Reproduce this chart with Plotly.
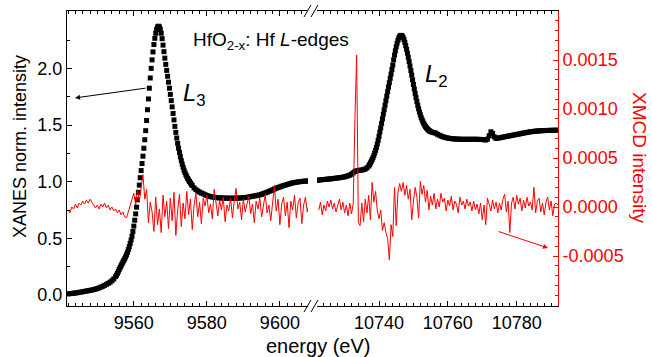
import numpy as np
import plotly.graph_objects as go

# ---------------- data ----------------
# XANES, Hf L3 edge (left break segment). Piecewise-uniform energy grids: (start eV, step eV)
l3_grid_a = (9542.0, 0.5)
l3_xanes_a = [0.010, 0.012, 0.014, 0.016, 0.018, 0.020, 0.023, 0.026, 0.029, 0.032,
              0.035, 0.038, 0.041, 0.044, 0.048, 0.052, 0.057, 0.063, 0.070, 0.077,
              0.085, 0.094, 0.103, 0.113, 0.126, 0.142, 0.162]
l3_grid_b = (9555.25, 0.25)
l3_xanes_b = [0.175, 0.190, 0.207, 0.225, 0.242, 0.258, 0.274, 0.290, 0.305, 0.320,
              0.337, 0.355, 0.376, 0.400, 0.426, 0.455, 0.485, 0.518, 0.560, 0.608,
              0.660, 0.716, 0.775, 0.840, 0.905, 0.970, 1.035, 1.098, 1.160, 1.225,
              1.295, 1.370, 1.450, 1.540, 1.635, 1.730, 1.825, 1.915, 2.000, 2.075,
              2.145, 2.210, 2.265, 2.310, 2.345, 2.365, 2.372, 2.365, 2.345, 2.310,
              2.262, 2.205, 2.147, 2.090, 2.035, 1.982, 1.930, 1.878, 1.825, 1.770,
              1.715, 1.660, 1.602, 1.545, 1.488, 1.435, 1.385, 1.338, 1.296, 1.258,
              1.220, 1.186, 1.155, 1.127, 1.102, 1.080, 1.061, 1.044, 1.028, 1.014,
              1.001, 0.989, 0.977, 0.966]
l3_grid_c = (9576.5, 0.5)
l3_xanes_c = [0.945, 0.930, 0.918, 0.908, 0.900, 0.893, 0.885, 0.878, 0.872, 0.868,
              0.865, 0.862, 0.860, 0.858, 0.857, 0.856, 0.855, 0.855, 0.854, 0.854,
              0.854, 0.854, 0.854, 0.855, 0.855, 0.856, 0.857, 0.858, 0.860, 0.862,
              0.865, 0.868, 0.871, 0.874, 0.877, 0.880, 0.884, 0.889, 0.895, 0.901,
              0.907, 0.914, 0.921, 0.928, 0.935, 0.942, 0.948, 0.954, 0.960, 0.965,
              0.970, 0.975, 0.980, 0.985, 0.989, 0.992, 0.995, 0.998, 1.000, 1.002,
              1.004, 1.005, 1.006, 1.007]

# XANES, Hf L2 edge (right break segment)
l2_grid_a = (10722.0, 0.5)
l2_xanes_a = [1.012, 1.014, 1.016, 1.018, 1.019, 1.021, 1.022, 1.024, 1.025, 1.027,
              1.029, 1.031, 1.033, 1.035, 1.037, 1.040, 1.043, 1.047, 1.052, 1.058,
              1.066, 1.078, 1.090, 1.096, 1.099, 1.101, 1.103, 1.106, 1.112, 1.122,
              1.138]
l2_grid_b = (10737.25, 0.25)
l2_xanes_b = [1.150, 1.165, 1.180, 1.195, 1.212, 1.232, 1.254, 1.276, 1.302, 1.332,
              1.365, 1.400, 1.438, 1.476, 1.515, 1.555, 1.595, 1.635, 1.675, 1.715,
              1.755, 1.795, 1.835, 1.873, 1.912, 1.950, 1.990, 2.030, 2.075, 2.117,
              2.155, 2.190, 2.221, 2.247, 2.268, 2.282, 2.290, 2.291, 2.285, 2.272,
              2.253, 2.229, 2.200, 2.168, 2.134, 2.098, 2.060, 2.021, 1.981, 1.940,
              1.899, 1.858, 1.818, 1.779, 1.742, 1.707, 1.674, 1.643, 1.615, 1.590,
              1.567, 1.547, 1.529, 1.513, 1.499, 1.487, 1.476, 1.467, 1.459, 1.452,
              1.446, 1.441]
l2_grid_c = (10755.5, 0.5)
l2_xanes_c = [1.436, 1.432, 1.428, 1.418, 1.410, 1.403, 1.397, 1.392, 1.388, 1.385,
              1.382, 1.380, 1.378, 1.377, 1.376, 1.375, 1.375, 1.374, 1.374, 1.374,
              1.374, 1.374, 1.374, 1.374, 1.374, 1.374, 1.374, 1.373, 1.373, 1.372,
              1.370, 1.368, 1.375, 1.405, 1.440, 1.425, 1.395, 1.382, 1.384, 1.387,
              1.390, 1.393, 1.396, 1.399, 1.402, 1.405, 1.408, 1.411, 1.414, 1.417,
              1.420, 1.423, 1.426, 1.429, 1.432, 1.435, 1.438, 1.440, 1.442, 1.444,
              1.446, 1.447, 1.448, 1.449, 1.450, 1.451, 1.452, 1.452, 1.453, 1.453,
              1.453, 1.454, 1.454, 1.454]

# XMCD (units of 1e-4), 0.5 eV grid
xmcd_l3_grid = (9542.0, 0.5)
xmcd_l3_e4 = [-0.3, -0.6, 0.0, -0.2, 0.3, -0.1, 0.4, 0.2, 0.6, 0.3,
              0.7, 0.4, 0.8, 0.5, 0.3, -0.1, 0.2, -0.2, 0.3, 0.0,
              0.4, -0.1, 0.2, -0.3, 0.0, -0.4, -0.2, -0.6, -0.3, -0.8,
              -0.5, -1.0, -1.1, -0.4, 0.3, 1.0, 1.4, 0.2, 1.8, 0.6,
              2.3, 3.3, 0.8, 1.8, -1.6, 0.5, -0.5, -2.5, 1.0, -1.8,
              -0.2, -2.6, 1.2, -1.0, 0.6, -2.2, 0.9, -1.4, 1.5, -2.9,
              -0.3, 1.3, -2.0, 0.4, -1.2, 1.6, -0.8, 0.8, -2.3, 0.2,
              1.4, -1.0, 0.5, -1.7, 0.9, 0.1, 1.2, -0.6, 0.3, -1.2,
              1.8, 0.4, -0.9, 0.7, -0.3, 1.0, -1.5, 0.2, -0.4, 0.9,
              -1.1, 0.6, 1.9, -0.2, 0.5, -1.3, 0.8, -0.5, 0.4, 1.1,
              -0.7, 0.3, -1.6, 0.6, -0.2, 0.9, -1.0, 0.4, 1.3, -0.6,
              0.2, -1.4, 0.7, 2.2, -0.4, 0.8, -1.8, 0.3, 1.0, -0.9,
              0.5, -2.1, 0.6, -0.3, 1.2, -1.1, 0.4, 0.9, -1.7, 0.2,
              1.0, -0.5, 0.4]
xmcd_l2_grid = (10722.5, 0.5)
xmcd_l2_e4 = [-0.3, 0.5, -0.8, 0.2, -0.4, 0.6, 0.0, 0.7, -0.2, 0.4,
              -0.5, 0.3, 0.8, -0.3, 0.5, -0.6, 0.2, -0.9, 0.4, -0.7,
              0.3, 9.0, 15.5, -1.6, -1.9, 0.4, -1.5, 0.8, -0.6, 1.2,
              -1.3, 2.5, 0.5, 1.6, -0.4, -1.2, -0.3, -2.4, -1.6, -2.6,
              -3.2, -5.4, -1.8, -3.0, 2.0, -1.9, 1.5, 2.4, 1.6, 2.5,
              1.2, 2.2, 0.8, 1.8, -1.3, 0.6, 2.0, 1.0, -1.1, 2.6,
              1.3, 2.2, 0.5, 1.7, -0.3, 1.1, 0.2, 1.4, -0.2, 0.8,
              0.0, 1.4, 0.5, 0.9, -0.4, 0.7, 0.1, 1.1, -0.3, 0.6,
              0.3, -0.6, 1.0, 0.2, 0.6, -0.2, 0.8, 0.1, 0.5, -0.4,
              0.6, -0.3, 0.3, -0.7, 0.4, -1.3, 0.2, -1.8, 0.9, 0.3,
              -0.4, 0.7, -0.2, 0.5, -0.6, 0.4, -0.3, 0.8, 1.3, -0.5,
              0.6, -2.6, 0.4, 1.0, -0.2, 1.2, 0.3, 0.9, -0.4, 0.7,
              -0.1, 1.0, 0.1, 0.5, -0.3, 2.0, -0.6, 0.6, 0.9, -0.5,
              0.4, -0.8, 0.5, 1.0, -0.3, 0.6, -0.9, 0.3, 0.4, 0.2]

# axis settings
x_left_range = [9541.7, 9607.7]
x_right_range = [10721.98, 10792.0]
y_left_range = [-0.097, 2.506]
y_left_ticks = [0.0, 0.5, 1.0, 1.5, 2.0]
y_right_range = [-0.00101, 0.0020]
y_right_ticks = [-0.0005, 0.0, 0.0005, 0.0010, 0.0015]
y_right_ticktext = ["-0.0005", "0.0000", "0.0005", "0.0010", "0.0015"]


def grid(spec, vals):
    start, step = spec
    return start + step * np.arange(len(vals))


e_l3 = np.concatenate([grid(l3_grid_a, l3_xanes_a), grid(l3_grid_b, l3_xanes_b),
                       grid(l3_grid_c, l3_xanes_c)])
v_l3 = np.array(l3_xanes_a + l3_xanes_b + l3_xanes_c)
e_l2 = np.concatenate([grid(l2_grid_a, l2_xanes_a), grid(l2_grid_b, l2_xanes_b),
                       grid(l2_grid_c, l2_xanes_c)])
v_l2 = np.array(l2_xanes_a + l2_xanes_b + l2_xanes_c)
e_m3 = grid(xmcd_l3_grid, xmcd_l3_e4)
v_m3 = np.array(xmcd_l3_e4) * 1e-4
e_m2 = grid(xmcd_l2_grid, xmcd_l2_e4)
v_m2 = np.array(xmcd_l2_e4) * 1e-4

# ---------------- figure ----------------
W, H = 652, 357
L, R, T, B = 67, 94, 11, 51
PW, PH = W - L - R, H - T - B
FONT = "Liberation Sans, Arial, sans-serif"
RED = "#ff0000"


def px(xp):
    return (xp - L) / PW


def py(yp):
    return (H - B - yp) / PH


fig = go.Figure()
mk = dict(symbol="square", size=5, color="black", line=dict(width=0))
fig.add_trace(go.Scatter(x=e_l3, y=v_l3, mode="markers", marker=mk, xaxis="x", yaxis="y"))
fig.add_trace(go.Scatter(x=e_l2, y=v_l2, mode="markers", marker=mk, xaxis="x2", yaxis="y"))
fig.add_trace(go.Scatter(x=e_m3, y=v_m3, mode="lines", line=dict(color=RED, width=1),
                         xaxis="x", yaxis="y2"))
fig.add_trace(go.Scatter(x=e_m2, y=v_m2, mode="lines", line=dict(color=RED, width=1),
                         xaxis="x2", yaxis="y2"))

xcommon = dict(showline=True, linecolor="black", linewidth=1, mirror="ticks",
               ticks="inside", ticklen=5, tickwidth=1, tickcolor="black",
               dtick=20, tick0=0, tickformat="d", showgrid=False, zeroline=False,
               minor=dict(dtick=2, ticks="inside", ticklen=3, tickcolor="black", showgrid=False),
               tickfont=dict(family=FONT, size=18, color="black"))
fig.update_layout(
    width=W, height=H, margin=dict(l=L, r=R, t=T, b=B, pad=0),
    paper_bgcolor="white", plot_bgcolor="white", showlegend=False,
    font=dict(family=FONT, size=18, color="black"),
    xaxis=dict(domain=[0, px(308)], range=x_left_range, anchor="y", **xcommon),
    xaxis2=dict(domain=[px(317), 1], range=x_right_range, anchor="y", **xcommon),
    yaxis=dict(domain=[0, 1], range=y_left_range, anchor="x", side="left",
               showline=True, linecolor="black", linewidth=1, ticks="inside",
               ticklen=5, tickwidth=1, tickcolor="black", tickvals=y_left_ticks,
               tickformat=".1f", showgrid=False, zeroline=False,
               minor=dict(dtick=0.25, tick0=0, ticks="inside", ticklen=3, tickcolor="black", showgrid=False),
               tickfont=dict(family=FONT, size=18, color="black")),
    yaxis2=dict(overlaying="y", anchor="x2", side="right", range=y_right_range,
                showline=True, linecolor=RED, linewidth=1, ticks="inside",
                ticklen=5, tickwidth=1, tickcolor=RED,
                tickvals=y_right_ticks, ticktext=y_right_ticktext,
                showgrid=False, zeroline=False,
                minor=dict(dtick=0.0001, tick0=0, ticks="inside", ticklen=3, tickcolor=RED, showgrid=False),
                tickfont=dict(family=FONT, size=18, color=RED)),
)

# axis break marks
for yb in (H - B, T):
    for x0 in (304, 311):
        fig.add_shape(type="line", xref="paper", yref="paper",
                      x0=px(x0), y0=py(yb + 6), x1=px(x0 + 7), y1=py(yb - 6),
                      line=dict(color="black", width=1))

ann = []
ann.append(dict(text="energy (eV)", xref="paper", yref="paper", x=px(318), y=py(346),
                xanchor="center", yanchor="middle", showarrow=False,
                font=dict(family=FONT, size=20, color="black")))
ann.append(dict(text="XANES norm. intensity", xref="paper", yref="paper", x=px(20), y=py(147),
                xanchor="center", yanchor="middle", textangle=-90, showarrow=False,
                font=dict(family=FONT, size=18, color="black")))
ann.append(dict(text="XMCD intensity", xref="paper", yref="paper", x=px(640), y=py(157),
                xanchor="center", yanchor="middle", textangle=90, showarrow=False,
                font=dict(family=FONT, size=19, color=RED)))
ann.append(dict(text="HfO<sub>2-x</sub>: Hf <i>L</i>-edges", xref="paper", yref="paper",
                x=px(191), y=py(41), xanchor="left", yanchor="middle", showarrow=False,
                font=dict(family=FONT, size=19, color="black")))
ann.append(dict(text="<i>L</i><sub>3</sub>", xref="paper", yref="paper",
                x=px(181), y=py(94), xanchor="left", yanchor="middle", showarrow=False,
                font=dict(family=FONT, size=24, color="black")))
ann.append(dict(text="<i>L</i><sub>2</sub>", xref="paper", yref="paper",
                x=px(423), y=py(75), xanchor="left", yanchor="middle", showarrow=False,
                font=dict(family=FONT, size=24, color="black")))
# arrows
ann.append(dict(text="", xref="x", yref="y", axref="x", ayref="y",
                x=9543.9, y=1.739, ax=9563.6, ay=1.827, showarrow=True,
                arrowhead=2, arrowsize=1, arrowwidth=1, arrowcolor="black"))
ann.append(dict(text="", xref="x2", yref="y2", axref="x2", ayref="y2",
                x=10789.1, y=-0.000418, ax=10774.3, ay=-0.000245, showarrow=True,
                arrowhead=2, arrowsize=1, arrowwidth=1, arrowcolor=RED))
fig.update_layout(annotations=ann)

fig.write_html("out.html")
